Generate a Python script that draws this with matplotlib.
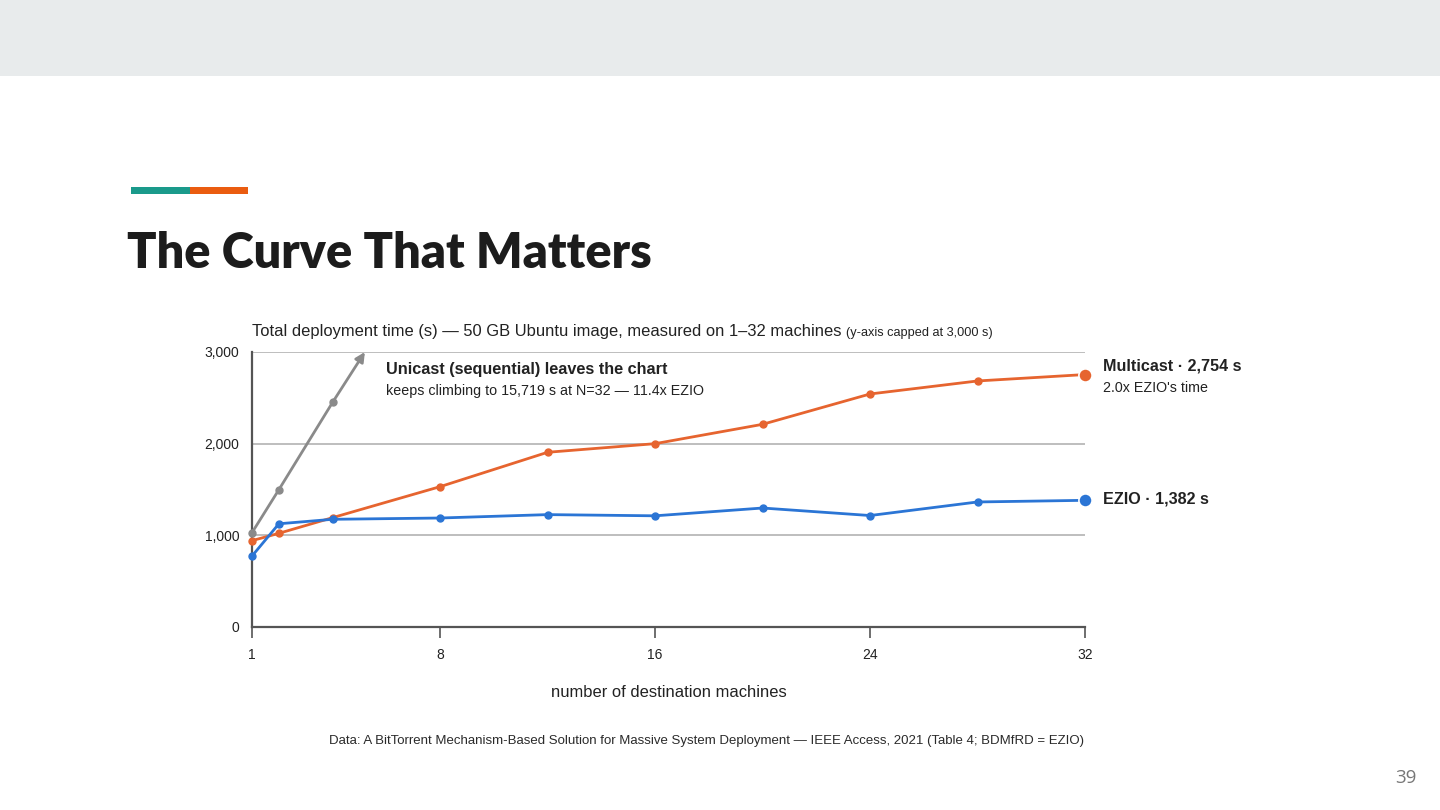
import matplotlib
matplotlib.use("Agg")
import matplotlib.pyplot as plt
from matplotlib.patches import Rectangle
import numpy as np

plt.rcParams["font.family"] = ["Liberation Sans", "DejaVu Sans"]

# --- data ---
MACHINES = [1, 2, 4, 8, 12, 16, 20, 24, 28, 32]
EZIO_S = [774, 1126, 1175, 1189, 1226, 1213, 1298, 1216, 1364, 1382]
MULTICAST_S = [942, 1022, 1193, 1531, 1906, 2000, 2211, 2542, 2684, 2754]
UNICAST_N = [1, 2, 4, 8]
UNICAST_S = [1029, 1498, 2451, 4280]  # last point is off the chart
Y_CAP = 3000
X_TICKS = [1, 8, 16, 24, 32]
Y_TICKS = [0, 1000, 2000, 3000]

BLUE = "#2b75d5"
ORANGE = "#e6642f"
GREY = "#8a8a8a"
TXT = "#222222"

W, H = 1440, 810


def fx(px):
    return px / W


def fy(py):
    return 1 - py / H


fig = plt.figure(figsize=(14.4, 8.1), dpi=100)
fig.patch.set_facecolor("white")

# slide chrome
fig.patches.append(Rectangle((0, fy(76)), 1, 76 / H, transform=fig.transFigure,
                             facecolor="#e8ebec", edgecolor="none"))
fig.patches.append(Rectangle((fx(131), fy(194)), 59 / W, 7 / H, transform=fig.transFigure,
                             facecolor="#1a9a8b", edgecolor="none"))
fig.patches.append(Rectangle((fx(190), fy(194)), 58 / W, 7 / H, transform=fig.transFigure,
                             facecolor="#ea5c10", edgecolor="none"))
fig.text(fx(127), fy(268), "The Curve That Matters", family="Lato", weight="heavy",
         fontsize=35, color="#1c1c1c", va="baseline")
fig.text(fx(1406), fy(778), "39", family="Open Sans", fontsize=13.5, color="#777777",
         ha="center", va="center")

ax = fig.add_axes([fx(252), fy(627), 833 / W, 275 / H])
ax.set_xlim(MACHINES[0], MACHINES[-1])
ax.set_ylim(0, Y_CAP)

for s in ["top", "right"]:
    ax.spines[s].set_visible(False)
for s in ["left", "bottom"]:
    ax.spines[s].set_color("#555555")
    ax.spines[s].set_linewidth(1.6)

ax.set_yticks(Y_TICKS)
ax.set_yticklabels([f"{v:,}" for v in Y_TICKS])
ax.set_xticks(X_TICKS)
ax.tick_params(axis="y", length=0, pad=9, labelsize=10, labelcolor=TXT)
ax.tick_params(axis="x", length=8, width=1.2, color="#555555", pad=7,
               labelsize=10, labelcolor=TXT)
ax.yaxis.grid(True, color="#b3b3b3", linewidth=1.2)
ax.set_axisbelow(True)

# multicast and EZIO
ax.plot(MACHINES, MULTICAST_S, color=ORANGE, lw=2, marker="o", ms=5, clip_on=False, zorder=3)
ax.plot(MACHINES, EZIO_S, color=BLUE, lw=2, marker="o", ms=5, clip_on=False, zorder=4)
ax.plot(MACHINES[-1], MULTICAST_S[-1], "o", color=ORANGE, ms=9.5, mec="white", mew=1.2,
        clip_on=False, zorder=5)
ax.plot(MACHINES[-1], EZIO_S[-1], "o", color=BLUE, ms=9.5, mec="white", mew=1.2,
        clip_on=False, zorder=5)

# unicast: points under the cap, then an arrow to where it leaves the chart
un = np.array(UNICAST_N, dtype=float)
us = np.array(UNICAST_S, dtype=float)
inside = us <= Y_CAP
ax.plot(un[inside], us[inside], color=GREY, lw=2, marker="o", ms=5, clip_on=False, zorder=6)
i = np.argmax(~inside)
x_exit = un[i - 1] + (Y_CAP - us[i - 1]) / (us[i] - us[i - 1]) * (un[i] - un[i - 1])
ax.annotate("", xy=(x_exit, Y_CAP), xytext=(un[i - 1], us[i - 1]),
            arrowprops=dict(arrowstyle="-|>", color=GREY, lw=2, mutation_scale=14,
                            shrinkA=0, shrinkB=0), annotation_clip=False, zorder=6)

# end labels
ax.annotate(f"Multicast · {MULTICAST_S[-1]:,} s", xy=(MACHINES[-1], MULTICAST_S[-1]),
            xytext=(13, 6), textcoords="offset points", fontsize=11.6, weight="bold",
            color=TXT, va="center", annotation_clip=False)
ax.annotate(f"{MULTICAST_S[-1] / EZIO_S[-1]:.1f}x EZIO's time",
            xy=(MACHINES[-1], MULTICAST_S[-1]), xytext=(13, -10), textcoords="offset points",
            fontsize=10.3, color=TXT, va="center", annotation_clip=False)
ax.annotate(f"EZIO · {EZIO_S[-1]:,} s", xy=(MACHINES[-1], EZIO_S[-1]),
            xytext=(13, 1), textcoords="offset points", fontsize=11.6, weight="bold",
            color=TXT, va="center", annotation_clip=False)

ax.text(6.0, 2805, "Unicast (sequential) leaves the chart", fontsize=11.7, weight="bold",
        color=TXT, va="center")
ax.text(6.0, 2575, "keeps climbing to 15,719 s at N=32 — 11.4x EZIO", fontsize=10.3,
        color=TXT, va="center")

# chart title + small note
t1 = fig.text(fx(252), fy(336), "Total deployment time (s) — 50 GB Ubuntu image, measured on 1–32 machines",
              fontsize=11.9, color=TXT, va="baseline")
fig.canvas.draw()
ax.annotate("(y-axis capped at 3,000 s)", xy=(1, 0), xycoords=t1, xytext=(3, 0),
            textcoords="offset points", fontsize=9.2, color=TXT, va="bottom",
            annotation_clip=False)

ax.set_xlabel("number of destination machines", fontsize=11.9, color=TXT, labelpad=17)

fig.text(fx(329), fy(741), "Data: A BitTorrent Mechanism-Based Solution for Massive System Deployment — "
         "IEEE Access, 2021 (Table 4; BDMfRD = EZIO)", fontsize=9.5, color="#2a2a2a", va="center")

fig.savefig("out.png", dpi=100)
